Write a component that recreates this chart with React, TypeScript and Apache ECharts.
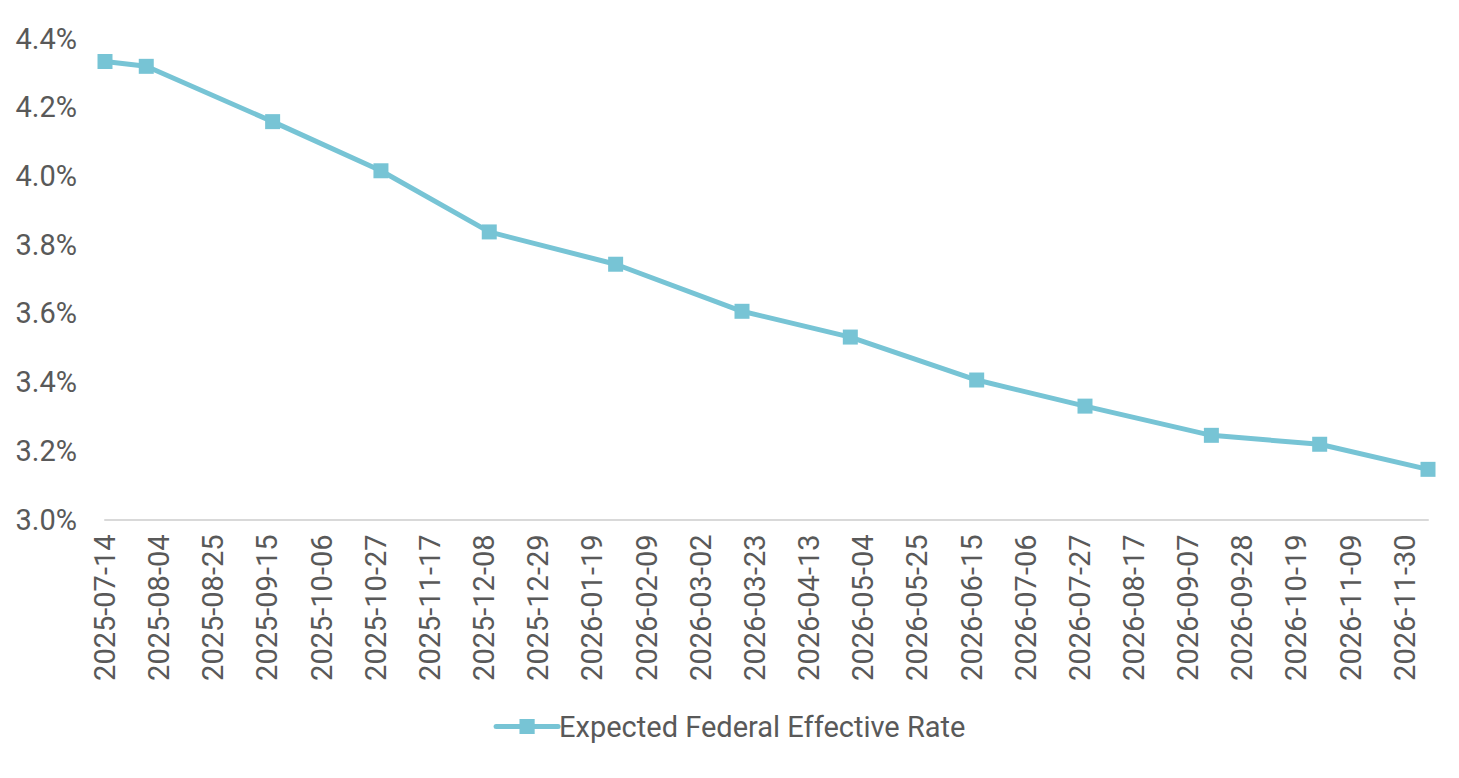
import React, { useEffect, useRef } from "react";
import * as echarts from "echarts";

const seriesName = "Expected Federal Effective Rate";
const dates = [
  "2025-07-14", "2025-07-30", "2025-09-17", "2025-10-29", "2025-12-10",
  "2026-01-28", "2026-03-18", "2026-04-29", "2026-06-17", "2026-07-29",
  "2026-09-16", "2026-10-28", "2026-12-09",
];
const rates = [4.333, 4.319, 4.158, 4.015, 3.837, 3.743, 3.606, 3.531, 3.406, 3.33, 3.245, 3.219, 3.146];
const axisStartDate = "2025-07-14";
const tickStepDays = 21;
const yMin = 3.0;
const yMax = 4.4;
const yStep = 0.2;

const DAY = 86400000;
const startMs = Date.parse(axisStartDate + "T00:00:00Z");
const toDay = (d: string) => Math.round((Date.parse(d + "T00:00:00Z") - startMs) / DAY);

export default function App() {
  const ref = useRef<HTMLDivElement>(null);
  useEffect(() => {
    if (!ref.current) return;
    const chart = echarts.init(ref.current, undefined, { renderer: "svg" });
    const data = dates.map((d, i) => [toDay(d), rates[i]]);
    const lastDay = toDay(dates[dates.length - 1]);
    const textColor = "#595959";
    const lineColor = "#77C4D5";
    chart.setOption({
      animation: false,
      textStyle: { fontFamily: "Roboto" },
      grid: { left: 105, right: 31, top: 38.5, bottom: 258.5, containLabel: false },
      xAxis: {
        type: "value",
        min: 0,
        max: lastDay,
        interval: tickStepDays,
        axisLine: { show: true, lineStyle: { color: "#D9D9D9", width: 2 } },
        axisTick: { show: false },
        splitLine: { show: false },
        axisLabel: {
          rotate: 90,
          margin: 15,
          fontSize: 29,
          color: textColor,
          fontFamily: "Roboto",
          showMaxLabel: false,
          formatter: (v: number) => {
            if (v % tickStepDays !== 0) return "";
            return new Date(startMs + v * DAY).toISOString().slice(0, 10);
          },
        },
      },
      yAxis: {
        type: "value",
        min: yMin,
        max: yMax,
        interval: yStep,
        axisLine: { show: false },
        axisTick: { show: false },
        splitLine: { show: false },
        axisLabel: {
          margin: 28,
          fontSize: 29,
          color: textColor,
          fontFamily: "Roboto",
          formatter: (v: number) => v.toFixed(1) + "%",
        },
      },
      legend: {
        show: true,
        left: "center",
        top: 707,
        itemWidth: 62,
        itemHeight: 19,
        itemGap: 10,
        itemStyle: { color: lineColor },
        lineStyle: { color: lineColor, width: 5, cap: "round" },
        textStyle: { fontSize: 29, color: textColor, fontFamily: "Roboto", padding: [0, 0, 0, -4] },
        data: [seriesName],
      },
      series: [
        {
          name: seriesName,
          type: "line",
          data,
          symbol: "rect",
          symbolSize: 15,
          showAllSymbol: true,
          lineStyle: { color: lineColor, width: 5 },
          itemStyle: { color: lineColor },
        },
      ],
    });
    return () => chart.dispose();
  }, []);
  return (
    <div
      ref={ref}
      style={{ position: "absolute", left: 0, top: 0, width: 1459, height: 778, background: "#fff" }}
    />
  );
}
